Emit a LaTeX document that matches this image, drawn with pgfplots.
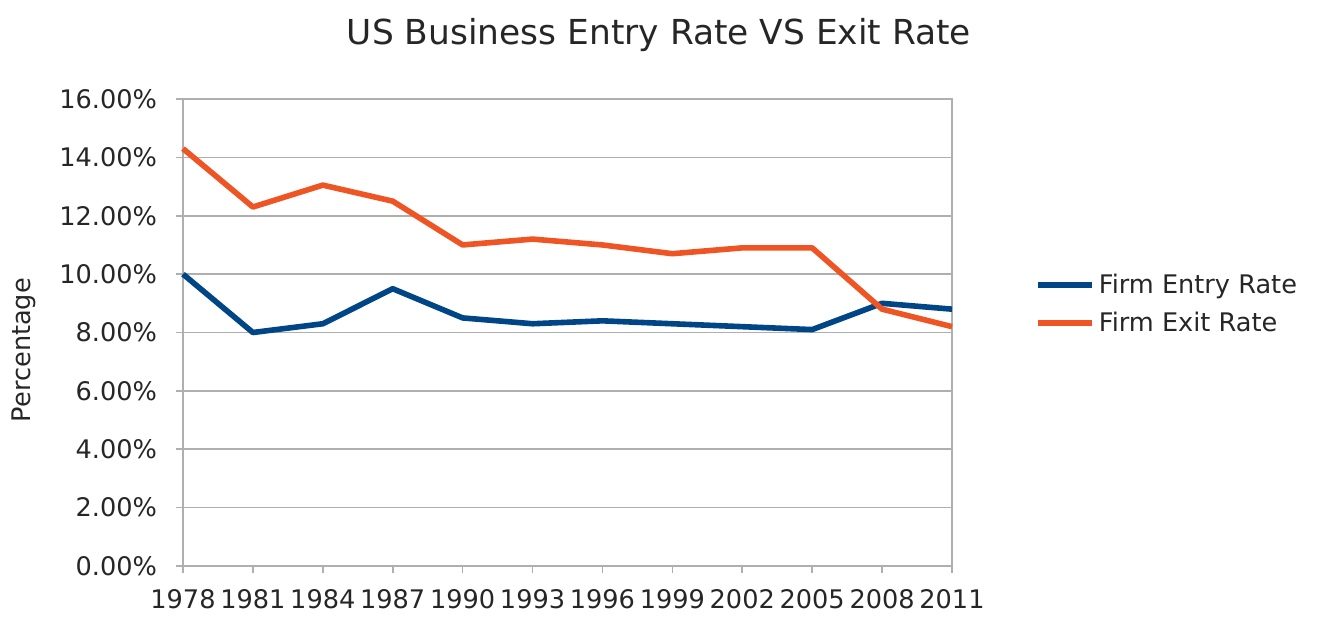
\documentclass[border=0pt]{standalone}
\usepackage{pgfplots}
\pgfplotsset{compat=1.18}
\usepackage{fontspec}
\setmainfont{DejaVu Sans}
\definecolor{entryc}{RGB}{0,69,134}
\definecolor{exitc}{RGB}{238,84,36}
\definecolor{gridc}{RGB}{175,175,175}
\begin{document}
\begin{tikzpicture}
\begin{axis}[
  name=ax,
  scale only axis,
  width=384.5pt, height=233.5pt,
  xmin=1978, xmax=2011,
  ymin=0, ymax=16,
  xtick={1978,1981,...,2011},
  ytick={0,2,...,16},
  xticklabel={\pgfmathprintnumber[1000 sep={},fixed,precision=0]{\tick}},
  yticklabel={\pgfmathprintnumber[fixed,fixed zerofill,precision=2]{\tick}\%},
  /pgf/number format/assume math mode=true,
  tick label style={font=\fontsize{12.8}{14}\selectfont, text=black!85},
  xticklabel style={yshift=-4.5pt},
  yticklabel style={xshift=-6pt},
  xtick pos=bottom, ytick pos=left,
  tick align=outside,
  major tick length=3.5pt,
  tick style={gridc, line width=0.8pt},
  axis line style={gridc, line width=0.8pt},
  ymajorgrids,
  grid style={gridc, line width=0.8pt},
  legend style={at={(rel axis cs:1.1,0.561)}, anchor=west, draw=none, fill=none,
    font=\fontsize{12.8}{15}\selectfont, text=black!85, row sep=4pt},
  legend cell align=left,
  legend image code/.code={\draw[#1, line width=2.8pt] (0pt,0pt) -- (27pt,0pt);},
  clip=false,
]
\addplot[entryc, line width=2.8pt, line join=round] coordinates {
 (1978,10.0) (1981,8.0) (1984,8.3) (1987,9.5) (1990,8.5) (1993,8.3)
 (1996,8.4) (1999,8.3) (2002,8.2) (2005,8.1) (2008,9.0) (2011,8.8)};
\addlegendentry{Firm Entry Rate}
\addplot[exitc, line width=2.8pt, line join=round] coordinates {
 (1978,14.3) (1981,12.3) (1984,13.05) (1987,12.5) (1990,11.0) (1993,11.2)
 (1996,11.0) (1999,10.7) (2002,10.9) (2005,10.9) (2008,8.8) (2011,8.2)};
\addlegendentry{Firm Exit Rate}
\node[font=\fontsize{17.2}{20}\selectfont, text=black!85] at ([yshift=32pt]rel axis cs:0.619,1) {US Business Entry Rate VS Exit Rate};
\node[rotate=90, font=\fontsize{12.8}{14}\selectfont, text=black!85] at ([xshift=-79.5pt]rel axis cs:0,0.4625) {Percentage};
\end{axis}
\path[use as bounding box] (ax.south west) ++(-91.5pt,-25.5pt) rectangle ++(666.5pt,308.5pt);
\end{tikzpicture}
\end{document}
